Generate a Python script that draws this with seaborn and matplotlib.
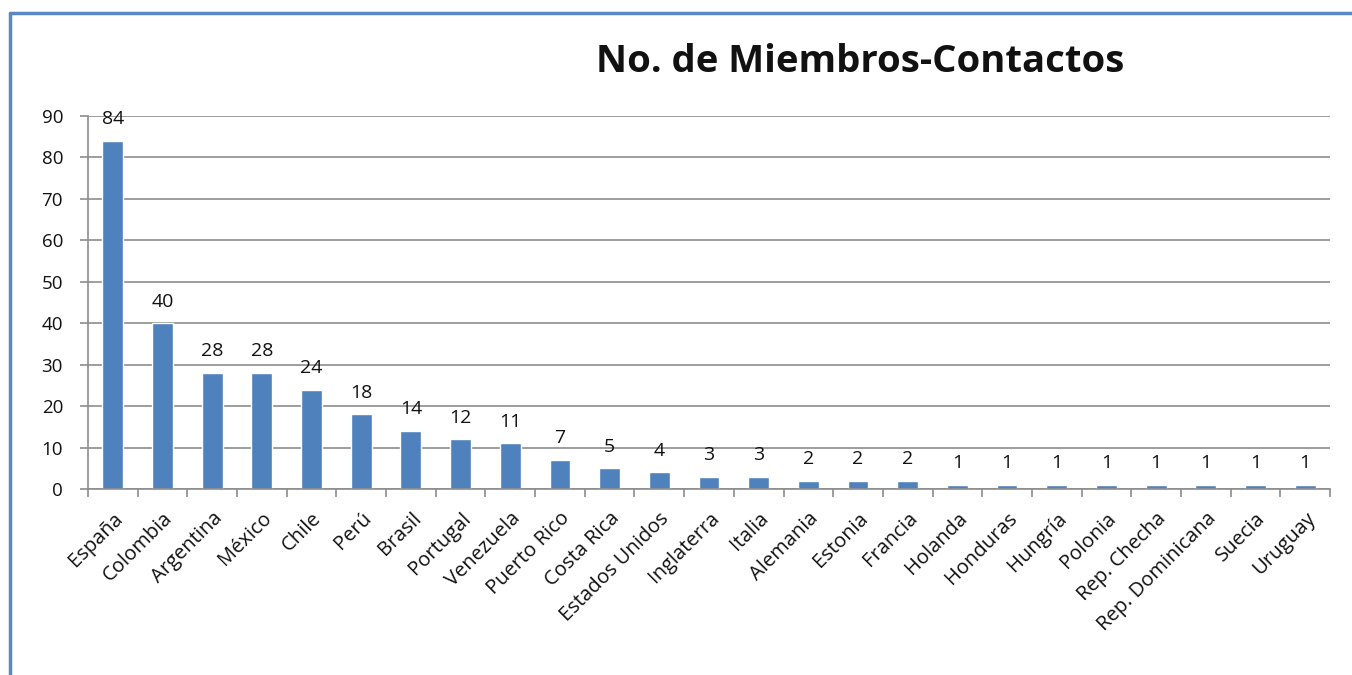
import matplotlib
matplotlib.use("Agg")
import matplotlib.pyplot as plt
import matplotlib.ticker as mticker
from matplotlib.lines import Line2D
import seaborn as sns
import pandas as pd
import numpy as np

# datos
paises = ["España", "Colombia", "Argentina", "México", "Chile", "Perú", "Brasil",
          "Portugal", "Venezuela", "Puerto Rico", "Costa Rica", "Estados Unidos",
          "Inglaterra", "Italia", "Alemania", "Estonia", "Francia", "Holanda",
          "Honduras", "Hungría", "Polonia", "Rep. Checha", "Rep. Dominicana",
          "Suecia", "Uruguay"]
miembros = [84, 40, 28, 28, 24, 18, 14, 12, 11, 7, 5, 4, 3, 3, 2, 2, 2,
            1, 1, 1, 1, 1, 1, 1, 1]

df = pd.DataFrame({"pais": paises, "miembros": miembros})

sns.set_theme(style="white")
plt.rcParams["font.family"] = ["Open Sans", "DejaVu Sans"]

BAR_COLOR = "#4F81BD"
GRID_COLOR = "#8c8c8c"
TEXT_COLOR = "#111111"

fig = plt.figure(figsize=(13.52, 6.75), dpi=100)
ax = fig.add_axes([0.0651, 0.2756, 0.9186, 0.5525])

sns.barplot(data=df, x="pais", y="miembros", color=BAR_COLOR, width=0.42,
            saturation=1, ax=ax)

ax.set_ylim(0, 90)
ax.set_xlim(-0.5, len(paises) - 0.5)
ax.yaxis.set_major_locator(mticker.MultipleLocator(10))
ax.set_axisbelow(True)
ax.grid(axis="y", color=GRID_COLOR, linewidth=1.2)
ax.set_xlabel("")
ax.set_ylabel("")

for side in ["top", "right"]:
    ax.spines[side].set_visible(False)
for side in ["left", "bottom"]:
    ax.spines[side].set_color(GRID_COLOR)
    ax.spines[side].set_linewidth(1.2)

# ticks del eje y hacia fuera
ax.tick_params(axis="y", which="major", direction="out", length=6, width=1.2,
               color=GRID_COLOR, left=True, labelsize=13.5, pad=12,
               labelcolor=TEXT_COLOR)

# marcas del eje x entre categorías
ax.tick_params(axis="x", which="major", length=0, labelsize=14.5, pad=14,
               labelcolor=TEXT_COLOR)
ax.xaxis.set_minor_locator(mticker.FixedLocator(np.arange(-0.5, len(paises), 1)))
ax.tick_params(axis="x", which="minor", direction="out", length=6, width=1.2,
               color=GRID_COLOR, bottom=True)
for lbl in ax.get_xticklabels():
    lbl.set_rotation(45)
    lbl.set_ha("right")
    lbl.set_rotation_mode("anchor")

ax.bar_label(ax.containers[0], fontsize=14, padding=9, color=TEXT_COLOR)

fig.text(0.636, 0.908, "No. de Miembros-Contactos", ha="center", va="center",
         fontsize=27.5, fontweight="bold", color=TEXT_COLOR)

# borde del gráfico (solo arriba e izquierda visibles)
fig.add_artist(Line2D([0.0074, 1.0], [0.981, 0.981], transform=fig.transFigure,
                      color="#5b87c5", linewidth=2.5))
fig.add_artist(Line2D([0.0074, 0.0074], [0.0, 0.981], transform=fig.transFigure,
                      color="#5b87c5", linewidth=2.5))

fig.savefig("out.png", dpi=100)
